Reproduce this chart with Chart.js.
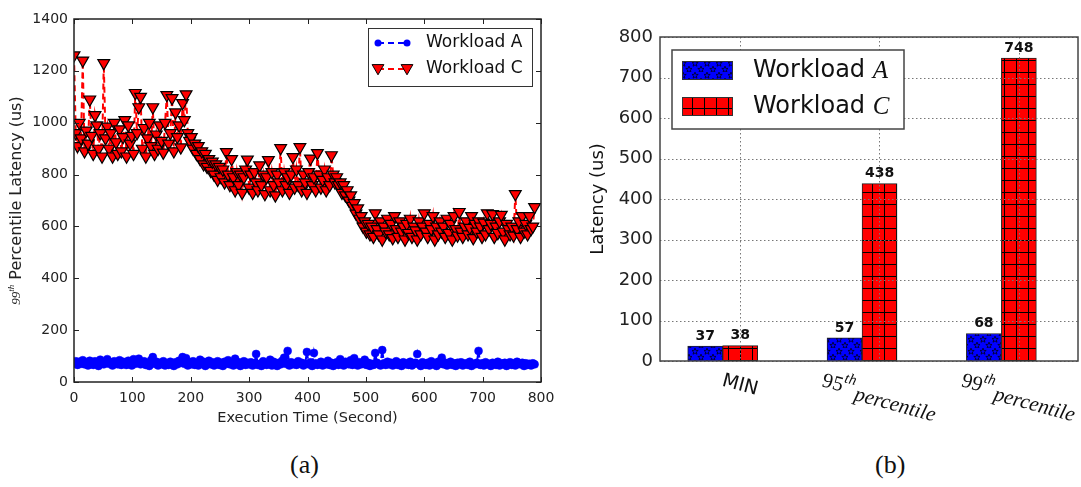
<!DOCTYPE html>
<html>
<head>
<meta charset="utf-8">
<script src="https://cdn.jsdelivr.net/npm/chart.js@4.4.1/dist/chart.umd.min.js"></script>
<style>
  html, body { margin: 0; padding: 0; background: #fff; }
  #wrap { position: relative; width: 1081px; height: 487px; overflow: hidden; }
  canvas { position: absolute; top: 0; }
  #latencyChart { left: 0; }
  #summaryChart { left: 560px; }
  .caption { position: absolute; top: 450px; font: 26px "Liberation Serif", serif; color: #111; }
</style>
</head>
<body>
<div id="wrap">
  <canvas id="latencyChart" width="560" height="440"></canvas>
  <canvas id="summaryChart" width="521" height="440"></canvas>
  <div class="caption" style="left:290px">(a)</div>
  <div class="caption" style="left:875px">(b)</div>
</div>
<script>
// (a) 99th percentile latency per interval, one sample every SAMPLE_STEP seconds
const SAMPLE_STEP = 3;

const latencyA = [
  72, 80, 66, 78, 70, 84, 68, 76, 64, 82,
  74, 66, 80, 70, 62, 86, 72, 68, 78, 88,
  70, 76, 64, 80, 74, 68, 84, 66, 78, 70,
  66, 82, 72, 64, 88, 70, 76, 90, 68, 74,
  80, 66, 72, 62, 84, 96, 70, 78, 64, 74,
  68, 80, 64, 72, 66, 78, 70, 62, 76, 68,
  82, 74, 96, 70, 92, 64, 76, 68, 80, 66,
  72, 64, 86, 70, 78, 62, 74, 82, 68, 76,
  64, 72, 80, 66, 74, 62, 78, 70, 84, 68,
  72, 64, 90, 68, 76, 62, 70, 80, 66, 74,
  68, 76, 64, 72, 108, 66, 70, 62, 80, 74,
  66, 72, 86, 64, 78, 70, 62, 74, 68, 82,
  94, 70, 120, 64, 76, 68, 72, 66, 80, 70,
  74, 64, 70, 116, 68, 76, 62, 112, 72, 66,
  70, 78, 64, 72, 68, 82, 66, 74, 62, 70,
  76, 66, 88, 70, 64, 78, 72, 68, 84, 66,
  92, 70, 64, 76, 68, 72, 86, 66, 74, 62,
  70, 66, 112, 74, 68, 64, 123, 72, 66, 78,
  68, 74, 64, 70, 80, 66, 72, 62, 76, 68,
  72, 66, 78, 64, 70, 74, 108, 68, 62, 76,
  70, 66, 74, 64, 80, 68, 72, 62, 78, 70,
  94, 68, 74, 64, 70, 78, 66, 72, 62, 74,
  68, 76, 64, 70, 72, 66, 78, 62, 70, 68,
  74, 120, 66, 72, 64, 76, 68, 70, 62, 74,
  70, 66, 78, 64, 72, 68, 74, 62, 70, 76,
  66, 72, 64, 78, 70, 68, 74, 62, 72, 66,
  70, 64, 72, 68
];

const latencyC = [
  1260, 960, 910, 1000, 940, 1240, 890, 970, 920, 1090,
  950, 880, 1030, 990, 900, 960, 870, 1230, 940, 985,
  900, 960, 870, 1000, 925, 880, 975, 890, 945, 1010,
  870, 990, 920, 950, 880, 1115, 960, 1060, 1100, 900,
  980, 870, 940, 1000, 910, 1060, 880, 955, 900, 990,
  930, 885, 1000, 1107, 920, 960, 1095, 890, 1040, 945,
  990, 905, 1076, 1010, 1110, 960, 930, 945, 900, 920,
  880, 910, 860, 890, 840, 880, 830, 860, 815, 850,
  800, 840, 780, 830, 790, 820, 770, 887, 800, 760,
  860, 790, 740, 810, 760, 800, 730, 790, 820, 858,
  750, 800, 730, 810, 770, 740, 836, 760, 800, 725,
  790, 856, 740, 810, 760, 720, 800, 770, 902, 740,
  810, 760, 790, 730, 800, 868, 750, 820, 760, 906,
  740, 800, 770, 730, 810, 862, 760, 790, 740, 883,
  800, 750, 780, 820, 740, 790, 760, 875, 800, 770,
  790, 760, 770, 730, 760, 720, 740, 700, 720, 680,
  690, 650, 670, 630, 640, 600, 620, 580, 610, 570,
  600, 560, 651, 590, 570, 620, 550, 600, 580, 630,
  570, 610, 555, 640, 590, 560, 620, 580, 600, 550,
  610, 575, 630, 560, 600, 585, 550, 620, 570, 600,
  651, 580, 560, 610, 590, 640, 550, 600, 570, 620,
  580, 600, 560, 630, 575, 610, 550, 640, 590, 565,
  656, 580, 560, 600, 620, 570, 595, 640, 555, 610,
  580, 620, 600, 560, 615, 570, 651, 590, 610, 648,
  560, 600, 575, 620, 645, 580, 550, 610, 590, 570,
  600, 565, 725, 590, 620, 560, 640, 580, 610, 570,
  640, 590, 600, 675
];

// (b) latency summary
const summaryLabels = ['MIN', '95th percentile', '99th percentile'];
const summaryA = [37, 57, 68];
const summaryC = [38, 438, 748];
const workloadNames = ['Workload A', 'Workload C'];

const BLUE = '#0000ff';
const RED = '#ff0000';
const SANS = '"DejaVu Sans", sans-serif';
const SERIF = '"Liberation Serif", serif';
const TILT = 15 * Math.PI / 180;
const BAR_OFFSET = 0.125; // ticks sit on the second bar of each group

Chart.defaults.font.family = SANS;
Chart.defaults.color = '#222';

function toPoints(values) {
  return values.map((v, i) => ({ x: i * SAMPLE_STEP, y: v }));
}

// text made of runs with their own fonts and baseline shifts
function runsWidth(ctx, runs) {
  return runs.reduce((w, r) => { ctx.font = r.font; return w + (r.gap || 0) + ctx.measureText(r.text).width; }, 0);
}
function drawRuns(ctx, runs, x, y) {
  runs.forEach(r => {
    ctx.font = r.font;
    x += r.gap || 0;
    ctx.fillText(r.text, x, y + (r.dy || 0));
    x += ctx.measureText(r.text).width;
  });
}

function downTriangle(ctx, x, y, r) {
  ctx.beginPath();
  ctx.moveTo(x - r * 0.866, y - r * 0.5);
  ctx.lineTo(x + r * 0.866, y - r * 0.5);
  ctx.lineTo(x, y + r);
  ctx.closePath();
  ctx.fill();
  ctx.stroke();
}

const latencyDecor = {
  id: 'latencyDecor',
  afterDraw(chart) {
    const { ctx, chartArea: a, scales: { x, y } } = chart;
    ctx.save();

    // inward tick marks on all four sides
    ctx.strokeStyle = '#222';
    ctx.lineWidth = 1;
    ctx.beginPath();
    x.ticks.forEach(t => {
      const px = Math.round(x.getPixelForValue(t.value)) + 0.5;
      ctx.moveTo(px, a.bottom); ctx.lineTo(px, a.bottom - 5);
      ctx.moveTo(px, a.top); ctx.lineTo(px, a.top + 5);
    });
    y.ticks.forEach(t => {
      const py = Math.round(y.getPixelForValue(t.value)) + 0.5;
      ctx.moveTo(a.left, py); ctx.lineTo(a.left + 5, py);
      ctx.moveTo(a.right, py); ctx.lineTo(a.right - 5, py);
    });
    ctx.stroke();
    ctx.lineWidth = 1.5;
    ctx.strokeRect(a.left, a.top, a.width, a.height);

    // axis titles
    ctx.fillStyle = '#222';
    ctx.textBaseline = 'middle';
    ctx.textAlign = 'center';
    ctx.font = '14.5px ' + SANS;
    ctx.fillText('Execution Time (Second)', (a.left + a.right) / 2, 418);

    const yRuns = [
      { text: '99', font: 'italic 13px ' + SERIF },
      { text: 'th', font: 'italic 9px ' + SERIF, dy: -5 },
      { text: 'Percentile Latency (us)', font: '16px ' + SANS, gap: 5 }
    ];
    ctx.save();
    ctx.translate(17, (a.top + a.bottom) / 2);
    ctx.rotate(-Math.PI / 2);
    ctx.textAlign = 'left';
    drawRuns(ctx, yRuns, -runsWidth(ctx, yRuns) / 2, 0);
    ctx.restore();

    // legend, upper right
    const bx = a.right - 9 - 164, by = a.top + 9;
    ctx.fillStyle = '#fff';
    ctx.fillRect(bx, by, 164, 58);
    ctx.strokeStyle = '#333';
    ctx.lineWidth = 1;
    ctx.strokeRect(bx + 0.5, by + 0.5, 164, 58);
    chart.data.datasets.forEach((ds, i) => {
      const ly = by + 15 + i * 26;
      ctx.save();
      ctx.strokeStyle = ds.borderColor;
      ctx.lineWidth = 2;
      ctx.setLineDash([6, 4]);
      ctx.beginPath();
      ctx.moveTo(bx + 10, ly); ctx.lineTo(bx + 40, ly);
      ctx.stroke();
      ctx.restore();
      ctx.fillStyle = ds.pointBackgroundColor;
      [bx + 10, bx + 39].forEach(mx => {
        if (ds.pointStyle === 'triangle') {
          ctx.strokeStyle = ds.pointBorderColor;
          ctx.lineWidth = 1;
          downTriangle(ctx, mx, ly - 1, 6.8);
        } else {
          ctx.beginPath();
          ctx.arc(mx, ly, 3.5, 0, Math.PI * 2);
          ctx.fill();
        }
      });
      ctx.fillStyle = '#111';
      ctx.textAlign = 'left';
      ctx.font = '17px ' + SANS;
      ctx.fillText(ds.label, bx + 58, ly);
    });
    ctx.restore();
  }
};

new Chart(document.getElementById('latencyChart'), {
  type: 'line',
  data: {
    datasets: [{
      label: workloadNames[0],
      data: toPoints(latencyA),
      borderColor: BLUE,
      borderWidth: 2,
      borderDash: [6, 4],
      pointStyle: 'circle',
      pointRadius: 4,
      pointBackgroundColor: BLUE,
      pointBorderColor: BLUE,
      pointBorderWidth: 0.5,
      tension: 0
    }, {
      label: workloadNames[1],
      data: toPoints(latencyC),
      borderColor: RED,
      borderWidth: 2,
      borderDash: [6, 4],
      pointStyle: 'triangle',
      pointRotation: 180,
      pointRadius: 6.8,
      pointBackgroundColor: RED,
      pointBorderColor: '#000',
      pointBorderWidth: 1.2,
      tension: 0
    }]
  },
  options: {
    responsive: false,
    animation: false,
    events: [],
    layout: { padding: { top: 19, right: 19, left: 0, bottom: 0 } },
    plugins: { legend: { display: false }, tooltip: { enabled: false } },
    scales: {
      x: {
        type: 'linear', min: 0, max: 800,
        grid: { display: false, drawTicks: false }, border: { display: false },
        ticks: { stepSize: 100, padding: 8, font: { size: 14 }, color: '#222', callback: v => String(v) },
        afterFit: s => { s.height = 58; s.paddingLeft = 0; s.paddingRight = 0; }
      },
      y: {
        min: 0, max: 1400,
        grid: { display: false, drawTicks: false }, border: { display: false },
        ticks: { stepSize: 200, padding: 6, font: { size: 14 }, color: '#222', callback: v => String(v) },
        afterFit: s => { s.width = 74; s.paddingTop = 0; s.paddingBottom = 0; }
      }
    }
  },
  plugins: [latencyDecor]
});

// hatch fills for (b)
const summaryCanvas = document.getElementById('summaryChart');
const summaryCtx = summaryCanvas.getContext('2d');

function makeTile(size, fill, draw) {
  const c = document.createElement('canvas');
  c.width = size; c.height = size;
  const g = c.getContext('2d');
  g.fillStyle = fill;
  g.fillRect(0, 0, size, size);
  draw(g);
  return summaryCtx.createPattern(c, 'repeat');
}
function starPath(g, cx, cy, ro, ri) {
  g.beginPath();
  for (let k = 0; k < 10; k++) {
    const r = k % 2 ? ri : ro;
    const ang = -Math.PI / 2 + k * Math.PI / 5;
    g.lineTo(cx + r * Math.cos(ang), cy + r * Math.sin(ang));
  }
  g.closePath();
  g.stroke();
}
const starFill = makeTile(12, BLUE, g => {
  g.strokeStyle = '#000';
  g.lineWidth = 0.7;
  starPath(g, 3, 3.5, 3.4, 1.4);
  starPath(g, 9, 9.5, 3.4, 1.4);
});
const gridFill = makeTile(12, RED, g => {
  g.fillStyle = '#000';
  g.fillRect(0, 0, 12, 1);
  g.fillRect(0, 0, 1, 12);
});

const summaryDecor = {
  id: 'summaryDecor',
  afterDatasetsDraw(chart) {
    const { ctx, chartArea: a, scales: { x, y } } = chart;
    ctx.save();
    // dotted grid
    ctx.strokeStyle = '#777';
    ctx.lineWidth = 1;
    ctx.setLineDash([1.5, 2.5]);
    ctx.beginPath();
    y.ticks.forEach(t => {
      const py = Math.round(y.getPixelForValue(t.value)) + 0.5;
      ctx.moveTo(a.left, py); ctx.lineTo(a.right, py);
    });
    x.ticks.forEach(t => {
      const px = Math.round(x.getPixelForValue(t.value)) + 0.5;
      ctx.moveTo(px, a.top); ctx.lineTo(px, a.bottom);
    });
    ctx.stroke();
    ctx.setLineDash([]);
    ctx.strokeStyle = '#444';
    ctx.lineWidth = 1.5;
    ctx.strokeRect(a.left, a.top, a.width, a.height);

    // values above the bars
    ctx.fillStyle = '#111';
    ctx.font = 'bold 14px ' + SANS;
    ctx.textAlign = 'center';
    ctx.textBaseline = 'middle';
    chart.data.datasets.forEach((ds, d) => {
      chart.getDatasetMeta(d).data.forEach((bar, i) => {
        ctx.fillText(String(ds.data[i].y), bar.x, bar.y - 10);
      });
    });
    ctx.restore();
  },
  afterDraw(chart) {
    const { ctx, chartArea: a, scales: { x } } = chart;
    ctx.save();
    ctx.fillStyle = '#111';
    ctx.textAlign = 'left';
    ctx.textBaseline = 'middle';

    // tilted category labels
    x.ticks.forEach((t, i) => {
      const label = summaryLabels[i];
      const m = /^(\d+)(th) (.+)$/.exec(label);
      const runs = m ? [
        { text: m[1], font: '21px ' + SERIF },
        { text: m[2], font: 'italic 15px ' + SERIF, dy: -8 },
        { text: m[3], font: 'italic 21px ' + SERIF, dy: 5, gap: 2 }
      ] : [{ text: label, font: '19px ' + SANS }];
      const w = runsWidth(ctx, runs);
      const h = 18;
      const boxH = w * Math.sin(TILT) + h * Math.cos(TILT);
      ctx.save();
      ctx.translate(x.getPixelForValue(t.value), 372 + boxH / 2);
      ctx.rotate(TILT);
      drawRuns(ctx, runs, -w / 2, 0);
      ctx.restore();
    });

    // y title
    ctx.save();
    ctx.translate(38, (a.top + a.bottom) / 2);
    ctx.rotate(-Math.PI / 2);
    ctx.textAlign = 'center';
    ctx.font = '18px ' + SANS;
    ctx.fillText('Latency (us)', 0, 0);
    ctx.restore();

    // legend, upper left
    const bx = a.left + 12, by = a.top + 13;
    ctx.fillStyle = '#fff';
    ctx.fillRect(bx, by, 232, 79);
    ctx.strokeStyle = '#444';
    ctx.lineWidth = 1.5;
    ctx.strokeRect(bx, by, 232, 79);
    chart.data.datasets.forEach((ds, i) => {
      const py = by + 11 + i * 36;
      ctx.fillStyle = ds.backgroundColor;
      ctx.fillRect(bx + 10, py, 50, 18);
      ctx.strokeStyle = '#333';
      ctx.lineWidth = 1;
      ctx.strokeRect(bx + 10.5, py + 0.5, 50, 18);
      const sp = ds.label.lastIndexOf(' ');
      const runs = [
        { text: ds.label.slice(0, sp + 1), font: '24px ' + SANS },
        { text: ds.label.slice(sp + 1), font: 'italic 25px ' + SERIF }
      ];
      ctx.fillStyle = '#111';
      drawRuns(ctx, runs, bx + 81, py + 10);
    });
    ctx.restore();
  }
};

new Chart(summaryCanvas, {
  type: 'bar',
  data: {
    datasets: [{
      label: workloadNames[0],
      data: summaryA.map((v, i) => ({ x: i, y: v })),
      backgroundColor: starFill,
      borderColor: '#222',
      borderWidth: 1,
      barThickness: 35
    }, {
      label: workloadNames[1],
      data: summaryC.map((v, i) => ({ x: i, y: v })),
      backgroundColor: gridFill,
      borderColor: '#222',
      borderWidth: 1,
      barThickness: 35
    }]
  },
  options: {
    responsive: false,
    animation: false,
    events: [],
    layout: { padding: { top: 37, right: 3, left: 0, bottom: 0 } },
    plugins: { legend: { display: false }, tooltip: { enabled: false } },
    scales: {
      x: {
        type: 'linear', min: -0.45, max: 2.55, offset: false,
        grid: { display: false, drawTicks: false, offset: false }, border: { display: false },
        ticks: { display: false },
        afterBuildTicks: s => { s.ticks = summaryLabels.map((_, i) => ({ value: i + BAR_OFFSET })); },
        afterFit: s => { s.height = 79; }
      },
      y: {
        min: 0, max: 800,
        grid: { display: false, drawTicks: false }, border: { display: false },
        ticks: { stepSize: 100, padding: 7, font: { size: 18 }, color: '#222' },
        afterFit: s => { s.width = 100; }
      }
    }
  },
  plugins: [summaryDecor]
});
</script>
</body>
</html>
